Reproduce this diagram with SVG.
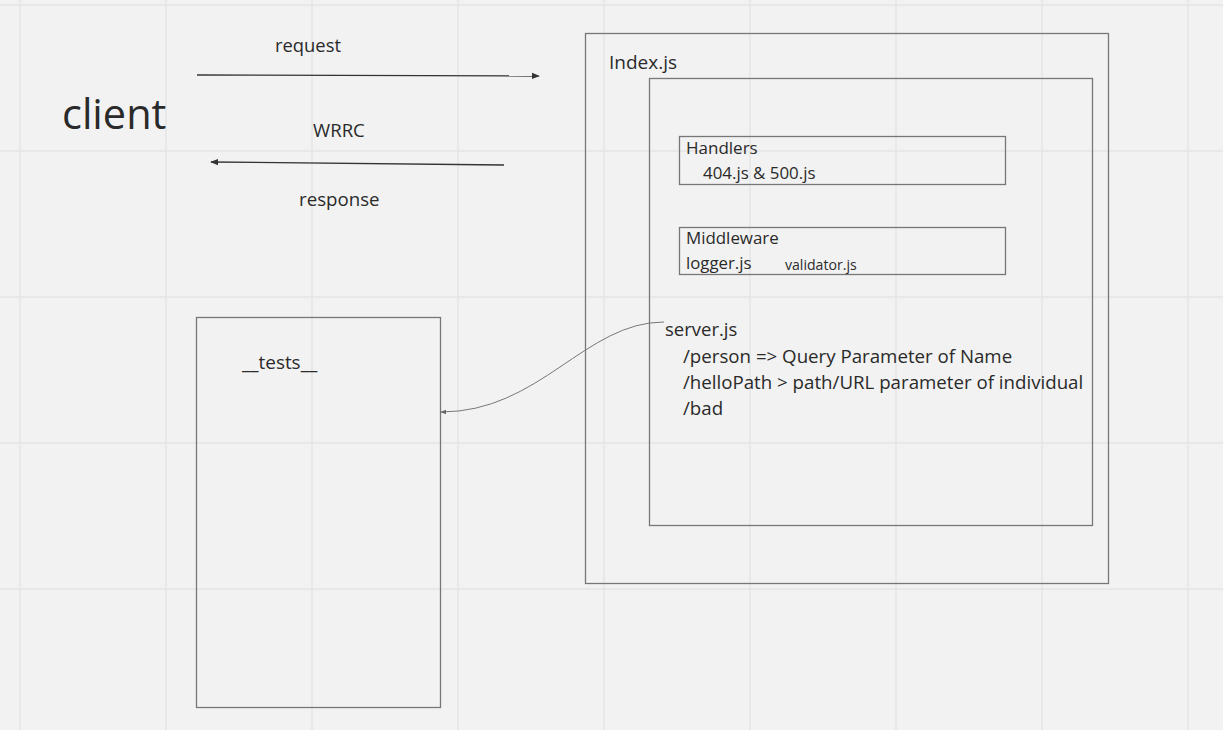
<svg xmlns="http://www.w3.org/2000/svg" width="1223" height="730" viewBox="0 0 1223 730">
<defs>
<style>
text{font-family:"Open Sans","Noto Sans","Liberation Sans",sans-serif;fill:#2a2a2a;}
.grid line{stroke:#e4e4e4;stroke-width:1.5;}
.box{fill:none;stroke:#777;stroke-width:1.3;}
.conn{fill:none;stroke:#333;stroke-width:1.3;}
.thin{fill:none;stroke:#777;stroke-width:1;}
</style>
<marker id="ah" viewBox="0 0 10 10" refX="9" refY="5" markerWidth="8" markerHeight="8" markerUnits="userSpaceOnUse" orient="auto">
<path d="M0,1 L10,5 L0,9 Z" fill="#333"/>
</marker>
<marker id="ah2" viewBox="0 0 10 10" refX="9" refY="5" markerWidth="6" markerHeight="6" markerUnits="userSpaceOnUse" orient="auto">
<path d="M0,1 L10,5 L0,9 Z" fill="#666"/>
</marker>
</defs>
<rect width="1223" height="730" fill="#f2f2f2"/>
<g class="grid">
<line x1="20" y1="0" x2="20" y2="730"/>
<line x1="166" y1="0" x2="166" y2="730"/>
<line x1="312" y1="0" x2="312" y2="730"/>
<line x1="458" y1="0" x2="458" y2="730"/>
<line x1="604" y1="0" x2="604" y2="730"/>
<line x1="750" y1="0" x2="750" y2="730"/>
<line x1="896" y1="0" x2="896" y2="730"/>
<line x1="1042" y1="0" x2="1042" y2="730"/>
<line x1="1188" y1="0" x2="1188" y2="730"/>
<line x1="0" y1="5" x2="1223" y2="5"/>
<line x1="0" y1="151" x2="1223" y2="151"/>
<line x1="0" y1="297" x2="1223" y2="297"/>
<line x1="0" y1="443" x2="1223" y2="443"/>
<line x1="0" y1="589" x2="1223" y2="589"/>
</g>
<g id="client"><text x="62" y="129" font-size="41.5">client</text></g>
<g id="labels">
<text x="275" y="52" font-size="18.4">request</text>
<text x="313" y="137" font-size="18.6">WRRC</text>
<text x="299" y="206" font-size="18.7">response</text>
</g>
<g id="index">
<rect class="box" x="585.5" y="33.5" width="523" height="550"/>
<text x="609" y="69" font-size="19">Index.js</text>
</g>
<g id="inner"><rect class="box" x="649.5" y="78.5" width="443" height="447"/></g>
<g id="handlers">
<rect class="box" x="679.5" y="136.5" width="326" height="48"/>
<text x="686" y="154" font-size="17">Handlers</text>
<text x="703" y="179" font-size="16.9">404.js &amp; 500.js</text>
</g>
<g id="middleware">
<rect class="box" x="679.5" y="227.5" width="326" height="47"/>
<text x="686" y="244" font-size="16.9">Middleware</text>
<text x="686" y="269" font-size="16.8">logger.js</text>
<text x="785" y="270" font-size="14.1">validator.js</text>
</g>
<g id="server">
<text x="665" y="336" font-size="18.5">server.js</text>
<text x="683" y="363" font-size="18.7">/person =&gt; Query Parameter of Name</text>
<text x="683" y="389" font-size="18.7">/helloPath &gt; path/URL parameter of individual</text>
<text x="683" y="415" font-size="18.7">/bad</text>
</g>
<g id="tests">
<rect class="box" x="196.5" y="317.5" width="244" height="390"/>
<text x="242" y="369" font-size="18.9">__tests__</text>
</g>
<g id="connectors">
<path class="conn" d="M197,75 L539,76" marker-end="url(#ah)"/>
<path class="conn" d="M504,165 L211,162" marker-end="url(#ah)"/>
<path class="thin" d="M664,322 C585,322 540,412 441,412" marker-end="url(#ah2)"/>
</g>
</svg>
